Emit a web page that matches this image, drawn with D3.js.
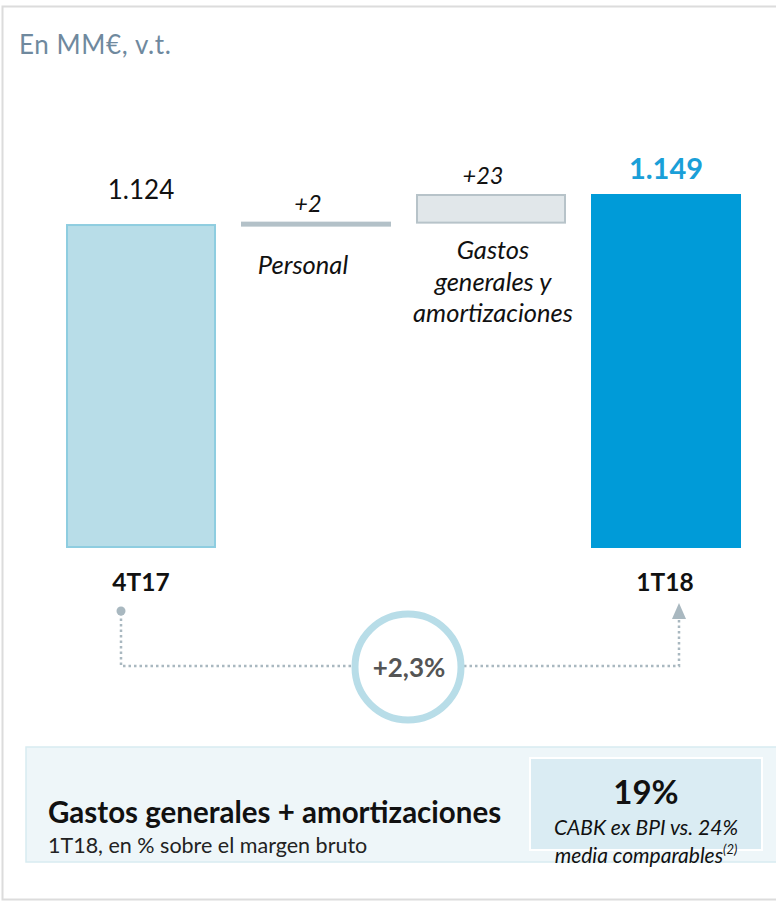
<!DOCTYPE html>
<html>
<head>
<meta charset="utf-8">
<script src="https://cdn.jsdelivr.net/npm/d3@7"></script>
<style>
  html, body { margin: 0; padding: 0; background: #ffffff; }
  svg { display: block; font-family: Lato, "Open Sans", sans-serif; }
</style>
</head>
<body>
<svg id="chart" width="776" height="904"></svg>
<script>
// Gastos: evolución trimestral (MM€)
const categories = ["4T17", "Personal", "Gastos", "1T18"];
const categoryLabels = [["4T17"], ["Personal"], ["Gastos", "generales y", "amortizaciones"], ["1T18"]];
const startValue = 1124;
const deltas = [2, 23];
const endValue = 1149;
const axisFloor = 856;          // the value axis is truncated (bars start here)
const changeLabel = "+2,3%";
const footerTitle = "Gastos generales + amortizaciones";
const footerSubtitle = "1T18, en % sobre el margen bruto";
const kpiValue = "19%";
const kpiLines = ["CABK ex BPI vs. 24%", "media comparables"];

const es = d3.formatLocale({ decimal: ",", thousands: ".", grouping: [3], currency: ["", "€"] });
const fmtTotal = es.format(",");
const fmtDelta = es.format("+,");

// build waterfall steps
const steps = [];
steps.push({ key: categories[0], kind: "start", lo: axisFloor, hi: startValue, label: fmtTotal(startValue) });
let run = startValue;
deltas.forEach((d, i) => {
  steps.push({ key: categories[i + 1], kind: "delta", idx: i, lo: run, hi: run + d, label: fmtDelta(d) });
  run += d;
});
steps.push({ key: categories[3], kind: "end", lo: axisFloor, hi: endValue, label: fmtTotal(endValue) });

const svg = d3.select("#chart");

// outer frame
svg.append("rect").attr("x", 2.5).attr("y", 6.5).attr("width", 780).attr("height", 893)
  .attr("fill", "none").attr("stroke", "#dcdcdc").attr("stroke-width", 2);

svg.append("text").attr("x", 19).attr("y", 54)
  .attr("font-size", 26).attr("font-weight", 400).attr("fill", "#6f899e")
  .attr("letter-spacing", 0.6)
  .text("En MM€, v.t.");

const x = d3.scaleBand().domain(categories).range([66, 741]).paddingInner(1 / 7).paddingOuter(0);
const y = d3.scaleLinear().domain([axisFloor, endValue]).range([547, 195]);

const fills = { start: "#b8dde8", end: "#009bd8" };
const strokes = { start: "#8ecde0", end: "#009bd8" };
const deltaFill = ["#b3c1c8", "#e1e7ea"];
const deltaStroke = ["#b3c1c8", "#b7c3c9"];

const g = svg.append("g");
g.selectAll("rect.bar").data(steps).join("rect")
  .attr("class", "bar")
  .attr("x", d => x(d.key) + 1)
  .attr("width", x.bandwidth() - 2)
  .attr("y", d => y(d.hi))
  .attr("height", d => Math.max(3, y(d.lo) - y(d.hi)))
  .attr("fill", d => d.kind === "delta" ? deltaFill[d.idx] : fills[d.kind])
  .attr("stroke", d => d.kind === "delta" ? deltaStroke[d.idx] : strokes[d.kind])
  .attr("stroke-width", 2);

// value labels
const labelGap = { start: 26, end: 16 };
g.selectAll("text.val").data(steps).join("text")
  .attr("class", "val")
  .attr("x", d => x(d.key) + x.bandwidth() / 2 + (d.kind === "delta" ? -8 : 0))
  .attr("y", d => y(d.hi) - (d.kind === "delta" ? 11 : labelGap[d.kind]))
  .attr("text-anchor", "middle")
  .attr("font-size", d => d.kind === "delta" ? 23.5 : d.kind === "end" ? 29 : 26)
  .attr("font-style", d => d.kind === "delta" ? "italic" : "normal")
  .attr("font-weight", d => d.kind === "end" ? 700 : 400)
  .attr("fill", d => d.kind === "end" ? "#1a9fd8" : "#111")
  .text(d => d.label);

// category labels
steps.forEach((d, i) => {
  const cx = x(d.key) + x.bandwidth() / 2;
  if (d.kind === "delta") {
    const t = g.append("text").attr("text-anchor", "middle")
      .attr("font-size", 25.5).attr("font-style", "italic").attr("fill", "#111");
    categoryLabels[i].forEach((line, j) => {
      t.append("tspan").attr("x", cx - (i === 1 ? 13 : -2))
        .attr("y", i === 1 ? 274 : 259 + j * 31.5).text(line);
    });
  } else {
    g.append("text").attr("x", cx + (d.kind === "end" ? -1 : 0)).attr("y", 591)
      .attr("text-anchor", "middle").attr("font-size", 24.5).attr("font-weight", 700)
      .attr("fill", "#111").text(categoryLabels[i][0]);
  }
});

// growth connector
const cxL = 121, cxR = 679, lineY = 666;
const conn = "#a9b8c0";
svg.append("path")
  .attr("d", `M${cxL},${613} V${lineY} H${cxR} V${618}`)
  .attr("fill", "none").attr("stroke", conn).attr("stroke-width", 2.5)
  .attr("stroke-dasharray", "2.5,3");
svg.append("circle").attr("cx", cxL).attr("cy", 611).attr("r", 4.5).attr("fill", conn);
svg.append("path").attr("d", `M${cxR},603 L${cxR + 7},619 L${cxR - 7},619 Z`).attr("fill", conn);

svg.append("circle").attr("cx", 408).attr("cy", 667).attr("r", 53)
  .attr("fill", "#ffffff").attr("stroke", "#b8dde8").attr("stroke-width", 7);
svg.append("text").attr("x", 409).attr("y", 677).attr("text-anchor", "middle")
  .attr("font-size", 26).attr("font-weight", 700).attr("fill", "#555")
  .text(changeLabel);

// footer panel
svg.append("rect").attr("x", 26).attr("y", 747).attr("width", 760).attr("height", 115)
  .attr("fill", "#eef6f9").attr("stroke", "#d8ebf1").attr("stroke-width", 1.5);
svg.append("text").attr("x", 48).attr("y", 823)
  .attr("font-size", 29.5).attr("font-weight", 700).attr("fill", "#111")
  .text(footerTitle);
svg.append("text").attr("x", 48).attr("y", 853)
  .attr("font-size", 21.5).attr("fill", "#222")
  .text(footerSubtitle);

svg.append("rect").attr("x", 530).attr("y", 758).attr("width", 232).attr("height", 92)
  .attr("fill", "#daecf3").attr("stroke", "#ffffff").attr("stroke-width", 2);
svg.append("text").attr("x", 646).attr("y", 804).attr("text-anchor", "middle")
  .attr("font-size", 33).attr("font-weight", 700).attr("fill", "#111")
  .text(kpiValue);
svg.append("text").attr("x", 646).attr("y", 835).attr("text-anchor", "middle")
  .attr("font-size", 21).attr("font-style", "italic").attr("fill", "#111")
  .text(kpiLines[0]);
const l2 = svg.append("text").attr("x", 646).attr("y", 863).attr("text-anchor", "middle")
  .attr("font-size", 21).attr("font-style", "italic").attr("fill", "#111");
l2.append("tspan").text(kpiLines[1]);
l2.append("tspan").attr("font-size", 13).attr("dy", -9).text("(2)");
</script>
</body>
</html>
